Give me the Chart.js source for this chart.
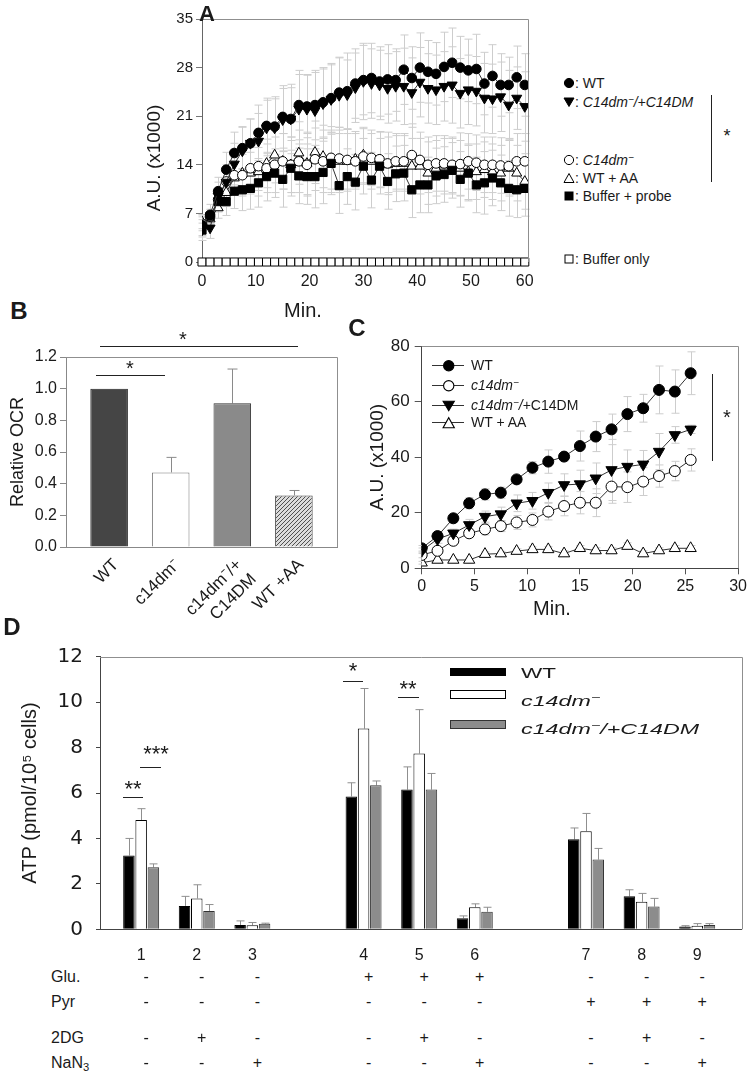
<!DOCTYPE html>
<html>
<head>
<meta charset="utf-8">
<title>Oxygen consumption and ATP</title>
<script src="https://cdn.jsdelivr.net/npm/chart.js@4.4.1/dist/chart.umd.min.js"></script>
<style>
  body { margin: 0; background: #fff; }
  #page { position: relative; width: 750px; height: 1078px; overflow: hidden;
          font-family: 'Liberation Sans', Arial, sans-serif; color: #1a1a1a; }
  canvas { position: absolute; }
  .t { position: absolute; white-space: nowrap; line-height: 1; transform: translateY(-50%); }
  .c { position: absolute; white-space: nowrap; line-height: 1; transform: translate(-50%, -50%); }
  .hl { position: absolute; height: 1px; background: #222; }
  .vl { position: absolute; width: 1px; background: #222; }
  .lab { position: absolute; font-weight: bold; font-size: 24px; line-height: 1; transform: translate(-50%, -50%); }
  sup { font-size: 0.7em; line-height: 0; vertical-align: 0.45em; }
  sub { font-size: 0.7em; line-height: 0; vertical-align: -0.25em; }
</style>
</head>
<body>
<div id="page">
  <canvas id="chartA" width="420" height="320" style="left:130px;top:0px"></canvas>
  <canvas id="chartB" width="345" height="290" style="left:0px;top:330px"></canvas>
  <canvas id="chartC" width="410" height="290" style="left:340px;top:330px"></canvas>
  <canvas id="chartD" width="750" height="340" style="left:0px;top:620px"></canvas>

  <!-- panel letters -->
  <div class="lab" style="left:207px;top:14px;font-size:22px">A</div>
  <div class="lab" style="left:19px;top:311px">B</div>
  <div class="lab" style="left:357px;top:328px">C</div>
  <div class="lab" style="left:12px;top:627px">D</div>

  <!-- panel A titles, legend, significance -->
  <div class="c" style="left:153px;top:158px;font-size:19px;transform:translate(-50%,-50%) rotate(-90deg)">A.U. (x1000)</div>
  <div class="c" style="left:303px;top:310px;font-size:20px">Min.</div>
  <div id="legendA"></div>
  <div class="vl" style="left:711px;top:95px;height:87px"></div>
  <div class="c" style="left:727px;top:136px;font-size:18px">*</div>

  <!-- panel B significance -->
  <div class="hl" style="left:100px;top:346px;width:198px"></div>
  <div class="c" style="left:183px;top:339px;font-size:20px">*</div>
  <div class="hl" style="left:96px;top:375px;width:69px"></div>
  <div class="c" style="left:130px;top:368px;font-size:20px">*</div>

  <!-- panel C title, significance, legend -->
  <div class="c" style="left:552px;top:608px;font-size:20px">Min.</div>
  <div class="vl" style="left:712px;top:374px;height:87px"></div>
  <div class="c" style="left:727px;top:417px;font-size:20px">*</div>
  <div id="legendC"></div>

  <!-- panel D legend and significance -->
  <div style="position:absolute;left:450px;top:668px;width:56px;height:8px;background:#000"></div>
  <div style="position:absolute;left:450px;top:690px;width:56px;height:9px;background:#fff;border:1px solid #000;box-sizing:border-box"></div>
  <div style="position:absolute;left:450px;top:720px;width:56px;height:9px;background:#8c8c8c;border:1px solid #333;box-sizing:border-box"></div>
  <div class="t" style="left:521px;top:672px;font-size:15px;transform:translateY(-50%) scaleX(1.5);transform-origin:left center">WT</div>
  <div class="t" style="left:521px;top:700px;font-size:15px;transform:translateY(-50%) scaleX(1.55);transform-origin:left center"><i>c14dm<sup>−</sup></i></div>
  <div class="t" style="left:521px;top:728px;font-size:15px;transform:translateY(-50%) scaleX(1.55);transform-origin:left center"><i>c14dm<sup>−</sup>/+C14DM</i></div>

  <div class="hl" style="left:123px;top:797px;width:20px"></div>
  <div class="c" style="left:133px;top:789px;font-size:22px">**</div>
  <div class="hl" style="left:140px;top:767px;width:21px"></div>
  <div class="c" style="left:156px;top:754px;font-size:22px">***</div>
  <div class="hl" style="left:343px;top:681px;width:20px"></div>
  <div class="c" style="left:353px;top:671px;font-size:22px">*</div>
  <div class="hl" style="left:398px;top:697px;width:21px"></div>
  <div class="c" style="left:408px;top:689px;font-size:22px">**</div>

  <div id="tableD"></div>
</div>

<script>
// ---------- Panel A: kinetics over 60 min ----------
const timeA = [0, 1.5, 3, 4.5, 6, 7.5, 9, 10.5, 12, 13.5, 15, 16.5, 18, 19.5, 21, 22.5, 24, 25.5, 27, 28.5,
               30, 31.5, 33, 34.5, 36, 37.5, 39, 40.5, 42, 43.5, 45, 46.5, 48, 49.5, 51, 52.5, 54, 55.5, 57, 58.5, 60];
const wtA   = [5.3, 6.8, 10.2, 13.3, 15.7, 16.4, 17.1, 18.6, 19.6, 19.5, 20.9, 20.6, 22.6, 22.4, 22.6, 23.0, 23.6, 24.4, 24.6, 25.7,
               26.2, 26.5, 26.0, 26.3, 26.2, 27.7, 26.5, 28.0, 27.4, 27.1, 28.1, 28.7, 28.0, 27.6, 27.8, 25.7, 26.8, 25.5, 25.5, 26.6, 25.5];
const dmA   = [4.6, 4.9, 9.5, 11.5, 14.1, 16.0, 17.1, 17.4, 19.3, 19.3, 20.5, 20.6, 22.0, 22.0, 21.8, 22.8, 23.4, 24.0, 24.1, 25.1,
               26.0, 25.7, 25.5, 25.0, 25.3, 25.3, 24.4, 25.9, 25.0, 24.8, 25.3, 25.5, 24.3, 24.8, 24.6, 23.6, 23.5, 23.8, 22.6, 23.6, 22.4];
const c14A  = [5.5, 6.5, 9.0, 11.6, 12.5, 12.5, 13.5, 13.8, 13.5, 14.0, 14.5, 14.0, 14.5, 14.0, 14.8, 14.5, 15.0, 14.9, 14.7, 14.5,
               15.2, 15.0, 14.8, 14.2, 14.5, 14.5, 15.4, 14.7, 14.0, 14.2, 14.2, 14.0, 14.1, 14.5, 14.3, 14.0, 14.0, 13.9, 13.8, 14.5, 14.5];
const aaA   = [5.8, 6.2, 7.8, 10.0, 12.1, 12.8, 12.8, 13.0, 14.2, 15.4, 14.5, 14.0, 15.7, 14.2, 15.8, 15.2, 14.5, 14.5, 14.5, 14.8,
               15.4, 14.5, 14.7, 14.0, 14.2, 14.2, 13.8, 13.8, 12.8, 13.5, 13.8, 13.8, 13.5, 13.0, 13.0, 13.3, 13.0, 12.8, 13.5, 12.8, 11.6];
const bpA   = [4.6, 6.6, 8.7, 8.7, 10.2, 10.4, 10.6, 11.4, 12.3, 12.8, 11.9, 13.5, 12.4, 12.3, 12.3, 12.9, 14.2, 11.0, 12.3, 11.5,
               13.8, 11.8, 13.8, 11.6, 12.7, 12.8, 10.4, 11.1, 11.1, 12.4, 12.6, 13.2, 11.9, 12.8, 11.1, 11.4, 12.1, 11.4, 10.6, 10.4, 10.6];
const bufA  = [0, 0, 0, 0, 0, 0, 0, 0, 0, 0, 0, 0, 0, 0, 0, 0, 0, 0, 0, 0,
               0, 0, 0, 0, 0, 0, 0, 0, 0, 0, 0, 0, 0, 0, 0, 0, 0, 0, 0, 0, 0];
const wtAErr  = [1.5, 1.5, 2, 2.5, 3, 3, 3.5, 4, 4, 4, 4.5, 4.5, 5, 4.5, 5, 5, 5, 5, 5.5, 5,
                 5, 5, 5, 5, 4.5, 5, 4.5, 5, 4.5, 4.5, 5, 5, 4.5, 4.5, 5, 4.5, 4.5, 4.5, 4, 4.5, 4.5];
const dmAErr  = [1.5, 1.5, 2, 2.5, 3, 3.5, 3.5, 4, 4, 4.5, 4.5, 5, 5, 5, 5.5, 5, 5, 5.5, 5, 5,
                 5.5, 5, 5, 5, 5, 5.5, 5, 5, 5, 5, 5, 5.5, 5, 5, 5, 5, 5, 5, 5, 4.5, 5];
const c14AErr = [1, 1, 1.5, 2, 2.5, 3, 3, 3.5, 3.5, 4, 4, 4, 4.5, 4.5, 4.5, 4.5, 4.5, 4.5, 4.5, 4,
                 4, 4, 4, 4.5, 4, 4, 4.5, 4, 4, 4, 4, 4, 4.5, 4, 4, 4, 4, 4, 4, 4, 4];
const aaAErr  = [1, 1, 1.5, 2, 2.5, 3, 3, 3.5, 3.5, 4, 4, 4, 4.5, 4.5, 4.5, 4.5, 4.5, 4.5, 4, 4,
                 4, 4, 4, 4, 4, 4, 4, 4, 4.5, 4, 4, 4, 4, 4, 4, 4, 4, 4, 4, 4, 4];
const bpAErr  = [1, 1, 1.5, 2, 2.5, 3, 3, 3.5, 3.5, 3.5, 4, 4, 4, 4, 4.5, 4.5, 4.5, 4, 4, 4,
                 4, 4, 4, 4, 4, 4, 4, 4, 4, 4, 4, 4, 4, 4, 4, 4.5, 4, 4, 4, 4, 4];
const ticksA = [0, 10, 20, 30, 40, 50, 60];

// ---------- Panel B: relative OCR ----------
const posB = [1, 2, 3, 4];
const labelsB = ['WT', 'c14dm⁻', ['c14dm⁻/+', 'C14DM'], 'WT +AA'];
const ocrB = [1.0, 0.471, 0.908, 0.326];
const ocrErrB = [0, 0.095, 0.216, 0.031];

// ---------- Panel C: kinetics over 25 min ----------
const timeC = [0, 1.5, 3, 4.5, 6, 7.5, 9, 10.5, 12, 13.5, 15, 16.5, 18, 19.5, 21, 22.5, 24, 25.5];
const wtC   = [7.2, 11.6, 18.0, 23.4, 26.6, 27.2, 32.0, 36.2, 38.4, 40.2, 44.0, 47.4, 50.0, 55.5, 57.6, 64.2, 63.6, 70.2];
const c14C  = [4.8, 6.3, 9.9, 12.6, 14.0, 15.2, 16.5, 17.4, 20.4, 22.4, 23.6, 23.6, 29.4, 29.2, 31.2, 33.2, 35.0, 39.0];
const dmC   = [6.3, 10.5, 12.6, 15.6, 18.6, 19.5, 23.4, 24.3, 27.2, 30.0, 30.3, 32.4, 35.4, 36.6, 37.4, 42.0, 48.0, 50.0];
const aaC   = [2.0, 3.0, 3.0, 3.0, 5.1, 5.3, 6.2, 6.8, 6.8, 5.3, 7.2, 6.4, 6.4, 8.0, 5.3, 6.4, 7.2, 7.2];
const wtCErr  = [1, 1.5, 1.5, 2, 2, 2, 1, 2.2, 4.2, 1.5, 5.4, 5.4, 5.5, 6.3, 5, 8.6, 7.8, 7.7];
const c14CErr = [1, 1, 1.5, 1.5, 2, 2, 2.5, 2.5, 3, 3.5, 4, 5, 6, 5.5, 5, 4, 3.5, 4];
const dmCErr  = [1, 1.5, 1.5, 2, 2, 2.5, 3, 3, 3.5, 4, 5, 5.5, 11, 6, 5, 6.5, 3, 1.5];
const aaCErr  = [0.5, 0.5, 0.5, 0.5, 0.8, 0.8, 0.8, 1, 1, 1, 1, 1, 1, 1.2, 1, 1, 1, 1];

// ---------- Panel D: ATP ----------
const posD = [1, 2, 3, 5, 6, 7, 9, 10, 11];
const labelsD = ['1', '2', '3', '4', '5', '6', '7', '8', '9'];
const wtD   = [3.25, 1.03, 0.19, 5.85, 6.15, 0.49, 3.96, 1.45, 0.12];
const c14D  = [4.81, 1.36, 0.18, 8.84, 7.74, 0.97, 4.32, 1.21, 0.16];
const dmD   = [2.73, 0.81, 0.24, 6.34, 6.15, 0.77, 3.07, 1.00, 0.19];
const wtDErr  = [0.75, 0.42, 0.18, 0.60, 1.00, 0.10, 0.50, 0.29, 0.04];
const c14DErr = [0.50, 0.60, 0.12, 1.76, 1.93, 0.15, 0.78, 0.37, 0.09];
const dmDErr  = [0.15, 0.28, 0.03, 0.19, 0.71, 0.20, 0.49, 0.36, 0.06];
const gluD = ['-', '-', '-', '+', '+', '+', '-', '-', '-'];
const pyrD = ['-', '-', '-', '-', '-', '-', '+', '+', '+'];
const dgD  = ['-', '+', '-', '-', '+', '-', '-', '+', '-'];
const nanD = ['-', '-', '+', '-', '-', '+', '-', '-', '+'];

Chart.defaults.font.family = "'Liberation Sans', Arial, sans-serif";
Chart.defaults.color = '#1a1a1a';
Chart.defaults.animation = false;

const pts = (xs, ys) => xs.map((x, i) => ({ x: x, y: ys[i] }));

// error bars, drawn under the marks
const errorPlugin = {
  id: 'errorBars',
  beforeDatasetsDraw(chart) {
    const ctx = chart.ctx;
    const yScale = chart.scales.y;
    chart.data.datasets.forEach((ds, di) => {
      if (!ds.errors) return;
      const meta = chart.getDatasetMeta(di);
      ctx.save();
      ctx.strokeStyle = ds.errColor || '#ccc';
      ctx.lineWidth = 1;
      meta.data.forEach((el, i) => {
        const e = ds.errors[i];
        if (!e) return;
        const v = ds.data[i].y;
        const top = yScale.getPixelForValue(v + e);
        const bot = ds.errUp ? yScale.getPixelForValue(v) : yScale.getPixelForValue(v - e);
        const x = Math.round(el.x) + 0.5;
        const w = ds.errCap || 4;
        ctx.beginPath();
        ctx.moveTo(x, top); ctx.lineTo(x, bot);
        ctx.moveTo(x - w, top); ctx.lineTo(x + w, top);
        if (!ds.errUp) { ctx.moveTo(x - w, bot); ctx.lineTo(x + w, bot); }
        ctx.stroke();
      });
      ctx.restore();
    });
  }
};

// top and right edges of the plot box
const framePlugin = {
  id: 'frame',
  afterDraw(chart) {
    const a = chart.chartArea;
    const ctx = chart.ctx;
    ctx.save();
    ctx.strokeStyle = '#8f8f8f';
    ctx.lineWidth = 1;
    ctx.beginPath();
    ctx.moveTo(a.left, Math.round(a.top) + 0.5);
    ctx.lineTo(Math.round(a.right) + 0.5, Math.round(a.top) + 0.5);
    ctx.lineTo(Math.round(a.right) + 0.5, a.bottom);
    ctx.stroke();
    ctx.restore();
  }
};

function hatch() {
  const c = document.createElement('canvas');
  c.width = 4; c.height = 4;
  const g = c.getContext('2d');
  g.fillStyle = '#dcdcdc';
  g.fillRect(0, 0, 4, 4);
  g.strokeStyle = '#505050';
  g.lineWidth = 1;
  g.beginPath();
  g.moveTo(0, 4); g.lineTo(4, 0);
  g.moveTo(-1, 1); g.lineTo(1, -1);
  g.moveTo(3, 5); g.lineTo(5, 3);
  g.stroke();
  return g.createPattern(c, 'repeat');
}

function markerSet(label, xs, ys, errs, style, filled, radius, rotation) {
  return {
    label: label,
    data: pts(xs, ys),
    showLine: true,
    borderColor: '#333',
    borderWidth: 1,
    pointStyle: style,
    pointRadius: radius,
    pointRotation: rotation || 0,
    pointBackgroundColor: filled ? '#000' : '#fff',
    pointBorderColor: '#000',
    pointBorderWidth: 1,
    errors: errs,
    errColor: '#cdcdcd',
    errCap: 4
  };
}

// small svg marker for the html legends
function symbol(kind, fill) {
  let s = '';
  if (kind === 'circle') s = '<circle cx="6" cy="6" r="4.6" fill="' + fill + '" stroke="#000"/>';
  if (kind === 'down') s = '<polygon points="1,2 11,2 6,10.5" fill="' + fill + '" stroke="#000"/>';
  if (kind === 'up') s = '<polygon points="1,10.5 11,10.5 6,1.5" fill="' + fill + '" stroke="#000"/>';
  if (kind === 'square') s = '<rect x="2" y="2" width="8" height="8" fill="' + fill + '" stroke="#000"/>';
  return s;
}

// ---------- chart A ----------
new Chart(document.getElementById('chartA'), {
  type: 'scatter',
  data: {
    datasets: [
      markerSet('WT', timeA, wtA, wtAErr, 'circle', true, 4.8),
      markerSet('C14dm-/+C14DM', timeA, dmA, dmAErr, 'triangle', true, 5.8, 180),
      markerSet('Buffer + probe', timeA, bpA, bpAErr, 'rect', true, 5.8),
      markerSet('C14dm-', timeA, c14A, c14AErr, 'circle', false, 4.8),
      markerSet('WT + AA', timeA, aaA, aaAErr, 'triangle', false, 5.8),
      Object.assign(markerSet('Buffer only', timeA, bufA, null, 'rect', false, 5.7), { showLine: false, clip: false })
    ]
  },
  options: {
    responsive: false,
    layout: { padding: { left: 0, top: 19, right: 22, bottom: 0 } },
    plugins: { legend: { display: false }, tooltip: { enabled: false } },
    scales: {
      x: {
        type: 'linear', min: 0, max: 60.6,
        afterBuildTicks: s => { s.ticks = ticksA.map(v => ({ value: v })); },
        afterFit: s => { s.height = 58; },
        grid: { drawOnChartArea: false, tickLength: 4, color: '#777' },
        border: { color: '#666' },
        ticks: { font: { size: 16 }, padding: 6, maxRotation: 0 }
      },
      y: {
        min: 0, max: 35,
        afterFit: s => { s.width = 72; },
        grid: { drawOnChartArea: false, tickLength: 6, color: '#777' },
        border: { color: '#666' },
        ticks: { stepSize: 7, font: { size: 15 }, padding: 3 }
      }
    }
  },
  plugins: [errorPlugin, framePlugin]
});

const legendA = [
  { y: 83, kind: 'circle', fill: '#000', html: 'WT' },
  { y: 102, kind: 'down', fill: '#000', html: '<i>C14dm<sup>−</sup>/+C14DM</i>' },
  { y: 160, kind: 'circle', fill: '#fff', html: '<i>C14dm<sup>−</sup></i>' },
  { y: 178, kind: 'up', fill: '#fff', html: 'WT + AA' },
  { y: 196, kind: 'square', fill: '#000', html: 'Buffer + probe' },
  { y: 259, kind: 'square', fill: '#fff', html: 'Buffer only' }
];
const legendABox = document.getElementById('legendA');
legendA.forEach(r => {
  legendABox.insertAdjacentHTML('beforeend',
    '<svg style="position:absolute;left:563px;top:' + (r.y - 6) + 'px" width="12" height="12">' + symbol(r.kind, r.fill) + '</svg>' +
    '<div class="t" style="left:575px;top:' + r.y + 'px;font-size:14px">: ' + r.html + '</div>');
});

// ---------- chart B ----------
new Chart(document.getElementById('chartB'), {
  type: 'bar',
  data: {
    datasets: [{
      label: 'Relative OCR',
      data: pts(posB, ocrB),
      backgroundColor: ['#454545', '#ffffff', '#8a8a8a', hatch()],
      borderColor: ['#222', '#777', '#333', '#444'],
      borderWidth: 1,
      barPercentage: 0.61,
      categoryPercentage: 1,
      errors: ocrErrB, errUp: true, errColor: '#8a8a8a', errCap: 5
    }]
  },
  options: {
    responsive: false,
    layout: { padding: { left: 0, top: 27, right: 8, bottom: 0 } },
    plugins: { legend: { display: false }, tooltip: { enabled: false } },
    scales: {
      x: {
        type: 'linear', min: 0.3, max: 4.7, offset: false,
        afterBuildTicks: s => { s.ticks = posB.map(v => ({ value: v })); },
        afterFit: s => { s.height = 73; },
        grid: { display: false },
        border: { color: '#888' },
        ticks: { autoSkip: false, minRotation: 45, maxRotation: 45, padding: 0, labelOffset: 7, font: { size: 17 },
                 callback: v => labelsB[posB.indexOf(v)] }
      },
      y: {
        min: 0, max: 1.2,
        afterFit: s => { s.width = 66; },
        grid: { drawOnChartArea: false, tickLength: 6, color: '#888' },
        border: { color: '#888' },
        ticks: { stepSize: 0.2, font: { size: 16 }, padding: 3, callback: v => v.toFixed(1) },
        title: { display: true, text: 'Relative OCR', font: { size: 18 }, padding: { top: 7, bottom: 0 } }
      }
    }
  },
  plugins: [errorPlugin, framePlugin]
});

// ---------- chart C ----------
new Chart(document.getElementById('chartC'), {
  type: 'scatter',
  data: {
    datasets: [
      markerSet('WT', timeC, wtC, wtCErr, 'circle', true, 5.5),
      markerSet('c14dm-/+C14DM', timeC, dmC, dmCErr, 'triangle', true, 6.5, 180),
      markerSet('c14dm-', timeC, c14C, c14CErr, 'circle', false, 5.5),
      markerSet('WT + AA', timeC, aaC, aaCErr, 'triangle', false, 6.5)
    ]
  },
  options: {
    responsive: false,
    layout: { padding: { left: 0, top: 16, right: 11.7, bottom: 0 } },
    plugins: { legend: { display: false }, tooltip: { enabled: false } },
    scales: {
      x: {
        type: 'linear', min: 0, max: 30,
        afterFit: s => { s.height = 51.7; },
        grid: { drawOnChartArea: false, tickLength: 6, color: '#555' },
        border: { color: '#444' },
        ticks: { stepSize: 5, font: { size: 16 }, padding: 3, maxRotation: 0 }
      },
      y: {
        min: 0, max: 80,
        afterFit: s => { s.width = 81.7; },
        grid: { drawOnChartArea: false, tickLength: 7, color: '#555' },
        border: { color: '#444' },
        ticks: { stepSize: 20, font: { size: 17 }, padding: 5 },
        title: { display: true, text: 'A.U. (x1000)', font: { size: 19 }, padding: { top: 26, bottom: 0 } }
      }
    }
  },
  plugins: [errorPlugin, framePlugin]
});

// legend of C, drawn as html rows
const legendC = [
  { y: 365, html: 'WT', kind: 'circle', fill: '#000' },
  { y: 385, html: '<i>c14dm<sup>−</sup></i>', kind: 'circle', fill: '#fff' },
  { y: 405, html: '<i>c14dm<sup>−</sup>/</i>+C14DM', kind: 'down', fill: '#000' },
  { y: 422, html: 'WT + AA', kind: 'up', fill: '#fff' }
];
const legendCBox = document.getElementById('legendC');
legendC.forEach(r => {
  legendCBox.insertAdjacentHTML('beforeend',
    '<svg style="position:absolute;left:432px;top:' + (r.y - 7) + 'px" width="32" height="14">' +
    '<line x1="0" y1="7.5" x2="32" y2="7.5" stroke="#333" stroke-width="1"/>' +
    '<g transform="translate(10,1) scale(1.12)">' + symbol(r.kind, r.fill) + '</g></svg>' +
    '<div class="t" style="left:471px;top:' + r.y + 'px;font-size:14px">' + r.html + '</div>');
});

// ---------- chart D ----------
function barSet(label, ys, errs, fill, border) {
  return {
    label: label,
    data: pts(posD, ys),
    backgroundColor: fill,
    borderColor: border,
    borderWidth: 1,
    barPercentage: 0.94,
    categoryPercentage: 0.66,
    errors: errs, errUp: true, errColor: '#8f8f8f', errCap: 4
  };
}

const chartD = new Chart(document.getElementById('chartD'), {
  type: 'bar',
  data: {
    datasets: [
      barSet('WT', wtD, wtDErr, '#000', '#000'),
      barSet('c14dm-', c14D, c14DErr, '#fff', '#000'),
      barSet('c14dm-/+C14DM', dmD, dmDErr, '#8c8c8c', '#333')
    ]
  },
  options: {
    responsive: false,
    layout: { padding: { left: 0, top: 36.7, right: 8.3, bottom: 0 } },
    plugins: { legend: { display: false }, tooltip: { enabled: false } },
    scales: {
      x: {
        type: 'linear', min: 0.26, max: 11.8, offset: false,
        afterBuildTicks: s => { s.ticks = posD.map(v => ({ value: v })); },
        afterFit: s => { s.height = 30.7; },
        grid: { display: false },
        border: { color: '#444' },
        ticks: { autoSkip: false, maxRotation: 0, padding: 9, font: { size: 16 },
                 callback: v => labelsD[posD.indexOf(v)] }
      },
      y: {
        min: 0, max: 12,
        afterFit: s => { s.width = 100; },
        grid: { drawOnChartArea: false, tickLength: 4, color: '#444' },
        border: { color: '#444' },
        ticks: { stepSize: 2, padding: 13, font: { family: "'DejaVu Sans', sans-serif", size: 20 } },
        title: { display: true, text: 'ATP (pmol/10⁵ cells)', font: { size: 20 }, padding: { top: 18, bottom: 0 } }
      }
    }
  },
  plugins: [errorPlugin, framePlugin]
});

// treatment table under D, columns follow the x scale of D
const rowsD = [
  { name: 'Glu.', y: 977, marks: gluD },
  { name: 'Pyr', y: 1002, marks: pyrD },
  { name: '2DG', y: 1038, marks: dgD },
  { name: 'NaN<sub>3</sub>', y: 1063, marks: nanD }
];
const tableBox = document.getElementById('tableD');
rowsD.forEach(r => {
  tableBox.insertAdjacentHTML('beforeend',
    '<div class="t" style="left:51px;top:' + r.y + 'px;font-size:16px">' + r.name + '</div>');
  r.marks.forEach((m, i) => {
    const px = chartD.scales.x.getPixelForValue(posD[i]) + 5;
    tableBox.insertAdjacentHTML('beforeend',
      '<div class="c" style="left:' + px + 'px;top:' + r.y + 'px;font-size:16px">' + m + '</div>');
  });
});
</script>
</body>
</html>
